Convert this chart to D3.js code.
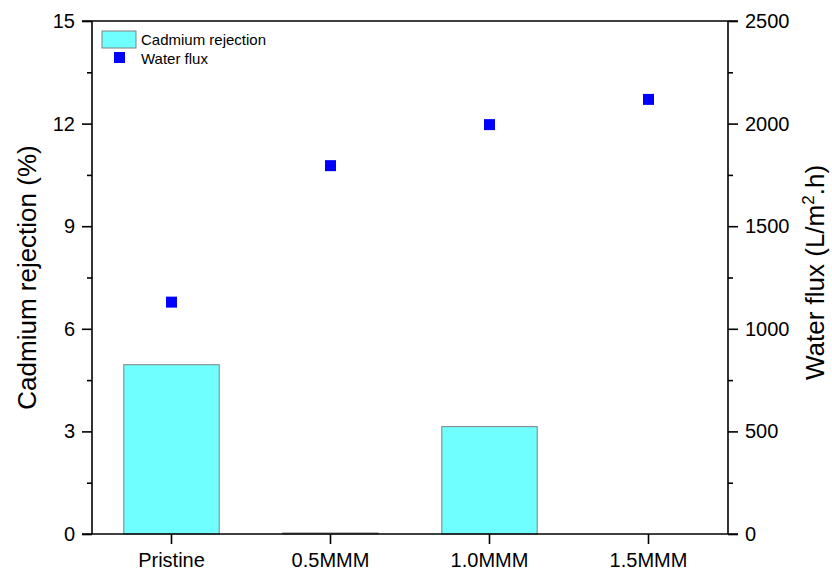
<!DOCTYPE html>
<html>
<head>
<meta charset="utf-8">
<script src="https://cdn.jsdelivr.net/npm/d3@7"></script>
<style>
  body { margin: 0; background: #fff; }
  text { font-family: "Liberation Sans", Arial, sans-serif; fill: #000; }
</style>
</head>
<body>
<div id="chart"></div>
<script>
// data
const categories = ["Pristine", "0.5MMM", "1.0MMM", "1.5MMM"];
const rejection = [4.95, 0.03, 3.14, 0];      // Cadmium rejection (%)
const flux = [1130, 1795, 1995, 2118];        // Water flux (L/m2.h)
const leftTicks = [0, 3, 6, 9, 12, 15];
const rightTicks = [0, 500, 1000, 1500, 2000, 2500];

const width = 832, height = 574;
const margin = { top: 21, right: 104, bottom: 40, left: 92 };

const svg = d3.select("#chart").append("svg")
  .attr("width", width)
  .attr("height", height);

const x = d3.scaleBand()
  .domain(categories)
  .range([margin.left, width - margin.right])
  .padding(0);

const yL = d3.scaleLinear().domain([0, 15]).range([height - margin.bottom, margin.top]);
const yR = d3.scaleLinear().domain([0, 2500]).range([height - margin.bottom, margin.top]);

const barW = x.bandwidth() * 0.6;

// bars
svg.append("g")
  .selectAll("rect")
  .data(categories)
  .join("rect")
  .attr("x", d => x(d) + (x.bandwidth() - barW) / 2)
  .attr("width", barW)
  .attr("y", (d, i) => yL(rejection[i]))
  .attr("height", (d, i) => yL(0) - yL(rejection[i]))
  .attr("fill", "#70ffff")
  .attr("stroke", "#808080")
  .attr("stroke-width", 1);

// flux points
const ms = 11;
svg.append("g")
  .selectAll("rect")
  .data(categories)
  .join("rect")
  .attr("x", d => x(d) + x.bandwidth() / 2 - ms / 2)
  .attr("y", (d, i) => yR(flux[i]) - ms / 2)
  .attr("width", ms)
  .attr("height", ms)
  .attr("fill", "#0000ff");

// axes
const styleAxis = g => {
  g.select(".domain").remove();
  g.selectAll("line").attr("stroke", "#000").attr("stroke-width", 1.6);
  g.selectAll("text").attr("font-size", 20).attr("fill", "#000");
};

const minorL = d3.range(1.5, 15, 3);
const minorR = d3.range(250, 2500, 500);

svg.append("g")
  .attr("transform", `translate(${margin.left},0)`)
  .call(d3.axisLeft(yL).tickValues(leftTicks).tickSize(10).tickPadding(7))
  .call(styleAxis);
svg.append("g")
  .attr("transform", `translate(${margin.left},0)`)
  .call(d3.axisLeft(yL).tickValues(minorL).tickSize(5).tickFormat(""))
  .call(styleAxis);

svg.append("g")
  .attr("transform", `translate(${width - margin.right},0)`)
  .call(d3.axisRight(yR).tickValues(rightTicks).tickSize(10).tickPadding(7).tickFormat(d3.format("d")))
  .call(styleAxis);
svg.append("g")
  .attr("transform", `translate(${width - margin.right},0)`)
  .call(d3.axisRight(yR).tickValues(minorR).tickSize(5).tickFormat(""))
  .call(styleAxis);

svg.append("g")
  .attr("transform", `translate(0,${height - margin.bottom})`)
  .call(d3.axisBottom(x).tickSize(10).tickPadding(9))
  .call(styleAxis);

// frame lines (left, right, top, bottom)
const frame = svg.append("g").attr("stroke", "#000").attr("stroke-width", 1.6);
frame.append("line").attr("x1", margin.left).attr("x2", margin.left)
  .attr("y1", margin.top).attr("y2", height - margin.bottom);
frame.append("line").attr("x1", width - margin.right).attr("x2", width - margin.right)
  .attr("y1", margin.top).attr("y2", height - margin.bottom);
frame.append("line").attr("x1", margin.left - 10).attr("x2", width - margin.right + 10)
  .attr("y1", margin.top).attr("y2", margin.top);
frame.append("line").attr("x1", margin.left - 10).attr("x2", width - margin.right + 10)
  .attr("y1", height - margin.bottom).attr("y2", height - margin.bottom);

// axis titles
const midY = (margin.top + height - margin.bottom) / 2;
svg.append("text")
  .attr("transform", `translate(36,${midY}) rotate(-90)`)
  .attr("text-anchor", "middle")
  .attr("font-size", 26)
  .text("Cadmium rejection (%)");

const rt = svg.append("text")
  .attr("transform", `translate(824,${midY - 5}) rotate(-90)`)
  .attr("text-anchor", "middle")
  .attr("font-size", 26);
rt.append("tspan").text("Water flux (L/m");
rt.append("tspan").attr("font-size", 17).attr("dy", -10).text("2");
rt.append("tspan").attr("dy", 10).text(".h)");

// legend
const lg = svg.append("g");
lg.append("rect").attr("x", 102).attr("y", 31).attr("width", 34).attr("height", 17)
  .attr("fill", "#70ffff").attr("stroke", "#808080");
lg.append("text").attr("x", 141).attr("y", 45).attr("font-size", 15).text("Cadmium rejection");
lg.append("rect").attr("x", 114).attr("y", 52).attr("width", 11).attr("height", 11)
  .attr("fill", "#0000ff");
lg.append("text").attr("x", 141).attr("y", 64).attr("font-size", 15).text("Water flux");
</script>
</body>
</html>
